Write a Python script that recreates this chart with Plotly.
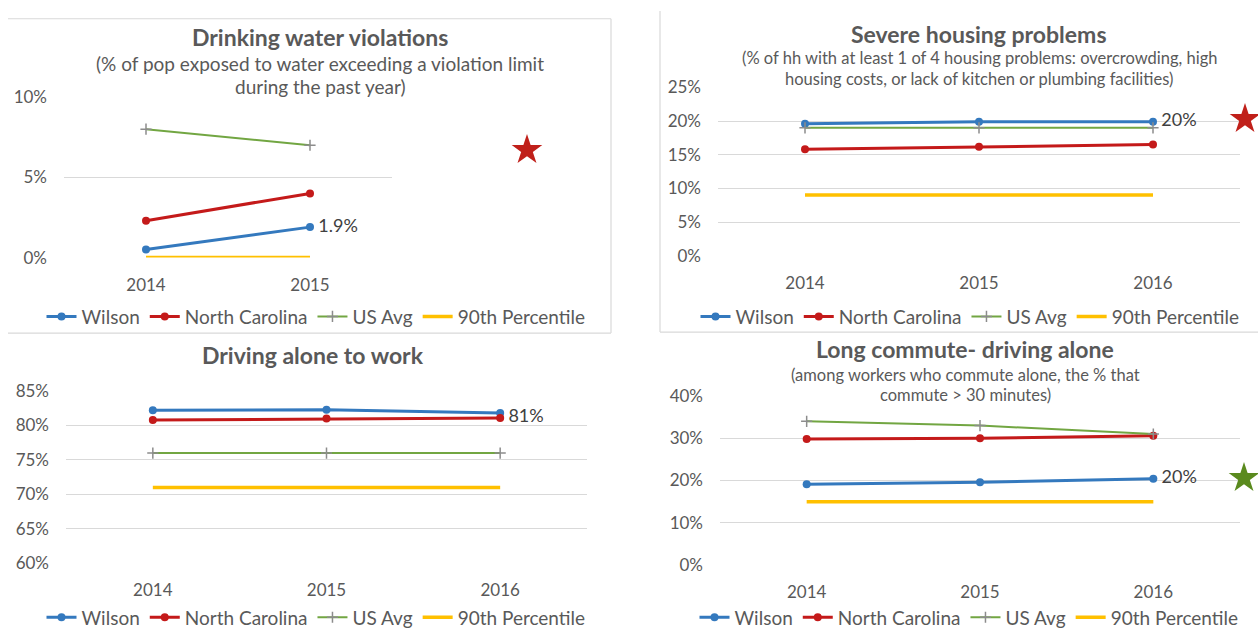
import plotly.graph_objects as go

W, H = 1258, 639
FONT = "Lato"
TXT = "#595959"

# ---------------- data ----------------
years2 = [2014, 2015]
years3 = [2014, 2015, 2016]

water_wilson = [0.005, 0.019]
water_nc = [0.023, 0.040]
water_us = [0.080, 0.070]
water_p90 = [0.0, 0.0]

housing_wilson = [0.196, 0.199, 0.199]
housing_nc = [0.158, 0.162, 0.165]
housing_us = [0.190, 0.190, 0.190]
housing_p90 = [0.090, 0.090, 0.090]

drive_wilson = [0.822, 0.823, 0.818]
drive_nc = [0.808, 0.810, 0.811]
drive_us = [0.760, 0.760, 0.760]
drive_p90 = [0.710, 0.710, 0.710]

commute_wilson = [0.191, 0.196, 0.204]
commute_nc = [0.298, 0.300, 0.306]
commute_us = [0.340, 0.330, 0.310]
commute_p90 = [0.150, 0.150, 0.150]

series_names = ["Wilson", "North Carolina", "US Avg", "90th Percentile"]

titles = ["Drinking water violations", "Severe housing problems",
          "Driving alone to work", "Long commute- driving alone"]
subtitles = [
    ["(% of pop exposed to water exceeding a violation limit", "during the past year)"],
    ["(% of hh with at least 1 of 4 housing problems: overcrowding, high",
     "housing costs, or lack of kitchen or plumbing facilities)"],
    [],
    ["(among workers who commute alone, the % that", "commute > 30 minutes)"],
]
value_labels = ["1.9%", "20%", "81%", "20%"]
star_levels = [0.067, 0.203, None, 0.206]
star_colors = ["#C0201A", "#C0201A", None, "#5A8A1E"]

# ---------------- layout helpers ----------------
def px_x(p):
    return p / W

def px_y(p):
    return 1 - p / H

colors = ["#3479BE", "#C41A1A", "#72A642", "#FFC000"]

panels = [
    dict(years=years2, data=[water_wilson, water_nc, water_us, water_p90],
         xdom=(64, 392), ydom=(255, 89), yr=(0, 0.10), dt=0.05,
         title_c=320, title_y=27, sub_y=[54, 78], sub_size=19, leg=(316, 316),
         label_series=0, star_px=527),
    dict(years=years3, data=[housing_wilson, housing_nc, housing_us, housing_p90],
         xdom=(718, 1240), ydom=(253, 79), yr=(0, 0.25), dt=0.05,
         title_c=979, title_y=24, sub_y=[49, 70], sub_size=16.5, leg=(970, 316),
         label_series=0, star_px=1245),
    dict(years=years3, data=[drive_wilson, drive_nc, drive_us, drive_p90],
         xdom=(66, 587), ydom=(571, 393), yr=(0.60, 0.85), dt=0.05,
         title_c=313, title_y=356, sub_y=[], sub_size=16, leg=(316, 627),
         label_series=1, star_px=None),
    dict(years=years3, data=[commute_wilson, commute_nc, commute_us, commute_p90],
         xdom=(720, 1240), ydom=(573, 398), yr=(0, 0.40), dt=0.10,
         title_c=965, title_y=350, sub_y=[376, 397], sub_size=16.5, leg=(969, 627),
         label_series=0, star_px=1244),
]

fig = go.Figure()
layout = dict(width=W, height=H, margin=dict(l=0, r=0, t=0, b=0),
              paper_bgcolor="white", plot_bgcolor="rgba(0,0,0,0)",
              font=dict(family=FONT, color=TXT), annotations=[], shapes=[])

extra_axis = 5
for i, p in enumerate(panels):
    k = "" if i == 0 else str(i + 1)
    xa, ya = "x" + k, "y" + k
    leg = "legend" + k
    for j, (name, vals) in enumerate(zip(series_names, p["data"])):
        if j in (0, 1):
            line = dict(color=colors[j], width=3)
            marker = dict(symbol="circle", size=8, color=colors[j])
            mode = "lines+markers"
        elif j == 2:
            line = dict(color=colors[j], width=2)
            marker = dict(symbol="cross-thin", size=8,
                          line=dict(color="#8C8C8C", width=1.5))
            mode = "lines+markers"
        else:
            line = dict(color=colors[j], width=3.5)
            marker = dict(size=1)
            mode = "lines"
        text = None
        if j == p["label_series"]:
            text = [""] * (len(vals) - 1) + ["\u2009" + value_labels[i]]
            mode += "+text"
        fig.add_trace(go.Scatter(
            x=p["years"], y=vals, name=name, mode=mode, line=line, marker=marker,
            text=text, textposition="middle right",
            textfont=dict(size=18, color="#404040", family=FONT),
            xaxis=xa, yaxis=ya, legend=leg, cliponaxis=False,
            hoverinfo="skip"))

    a, b = p["years"][0] - 0.5, p["years"][-1] + 0.5
    x0, x1 = p["xdom"]
    slope = (b - a) / (x1 - x0)
    ydomain = [px_y(p["ydom"][0]), px_y(p["ydom"][1])]

    if p["star_px"] is not None:
        # invisible axes pair extending this panel's scales to the right margin
        x2 = min(W, p["star_px"] + 16)
        ek = str(extra_axis)
        extra_axis += 1
        layout["xaxis" + ek] = dict(
            domain=[px_x(x0), px_x(x2)], range=[a, a + slope * (x2 - x0)],
            anchor="y" + ek, visible=False, showgrid=False,
            zeroline=False, fixedrange=True)
        layout["yaxis" + ek] = dict(
            domain=ydomain, range=list(p["yr"]), anchor="x" + ek,
            visible=False, showgrid=False, zeroline=False, fixedrange=True)
        star_x = a + slope * (p["star_px"] - x0)
        fig.add_trace(go.Scatter(
            x=[star_x], y=[star_levels[i]], mode="markers",
            marker=dict(symbol="star", size=23, color=star_colors[i]),
            xaxis="x" + ek, yaxis="y" + ek, showlegend=False, cliponaxis=False,
            hoverinfo="skip"))

    layout["xaxis" + k] = dict(
        domain=[px_x(x0), px_x(x1)], anchor=ya, range=[a, b],
        tickvals=p["years"], ticktext=[str(y) for y in p["years"]],
        showgrid=False, zeroline=False, showline=False, ticks="",
        tickfont=dict(size=17, color=TXT, family=FONT), ticklabelstandoff=15,
        fixedrange=True)
    layout["yaxis" + k] = dict(
        domain=ydomain, anchor=xa,
        range=list(p["yr"]), dtick=p["dt"], tick0=0, tickformat=".0%",
        showgrid=True, gridcolor="#D9D9D9", gridwidth=1.2, zeroline=False,
        showline=False, ticks="", tickfont=dict(size=17, color=TXT, family=FONT),
        ticklabelstandoff=16, fixedrange=True)
    layout[leg] = dict(
        orientation="h", x=px_x(p["leg"][0]), xanchor="center",
        y=px_y(p["leg"][1]), yanchor="middle", bgcolor="rgba(0,0,0,0)",
        font=dict(size=19, color=TXT, family=FONT), itemwidth=30,
        tracegroupgap=0, traceorder="normal")
    layout["annotations"].append(dict(
        text="<b>" + titles[i] + "</b>", x=px_x(p["title_c"]), y=px_y(p["title_y"]),
        xref="paper", yref="paper", xanchor="center", yanchor="middle",
        showarrow=False, font=dict(size=23, color=TXT, family=FONT)))
    for line_txt, yy in zip(subtitles[i], p["sub_y"]):
        layout["annotations"].append(dict(
            text=line_txt, x=px_x(p["title_c"]), y=px_y(yy),
            xref="paper", yref="paper", xanchor="center", yanchor="middle",
            showarrow=False, font=dict(size=p["sub_size"], color=TXT, family=FONT)))

# panel frames
border = dict(color="#D9D9D9", width=1.2)
frame_lines = [
    (8, 8, 611, 8), (611, 8, 611, 333), (8, 333, 611, 333),
    (660, 0, 660, 332), (660, 332, 1258, 332),
]
for fx0, fy0, fx1, fy1 in frame_lines:
    layout["shapes"].append(dict(type="line", xref="paper", yref="paper",
                                 x0=px_x(fx0), y0=px_y(fy0), x1=px_x(fx1), y1=px_y(fy1),
                                 line=border, layer="below"))

fig.update_layout(**layout)
fig.write_html("out.html", config={"displayModeBar": False},
               post_script="document.body.style.margin='0';document.body.style.overflow='hidden';")
